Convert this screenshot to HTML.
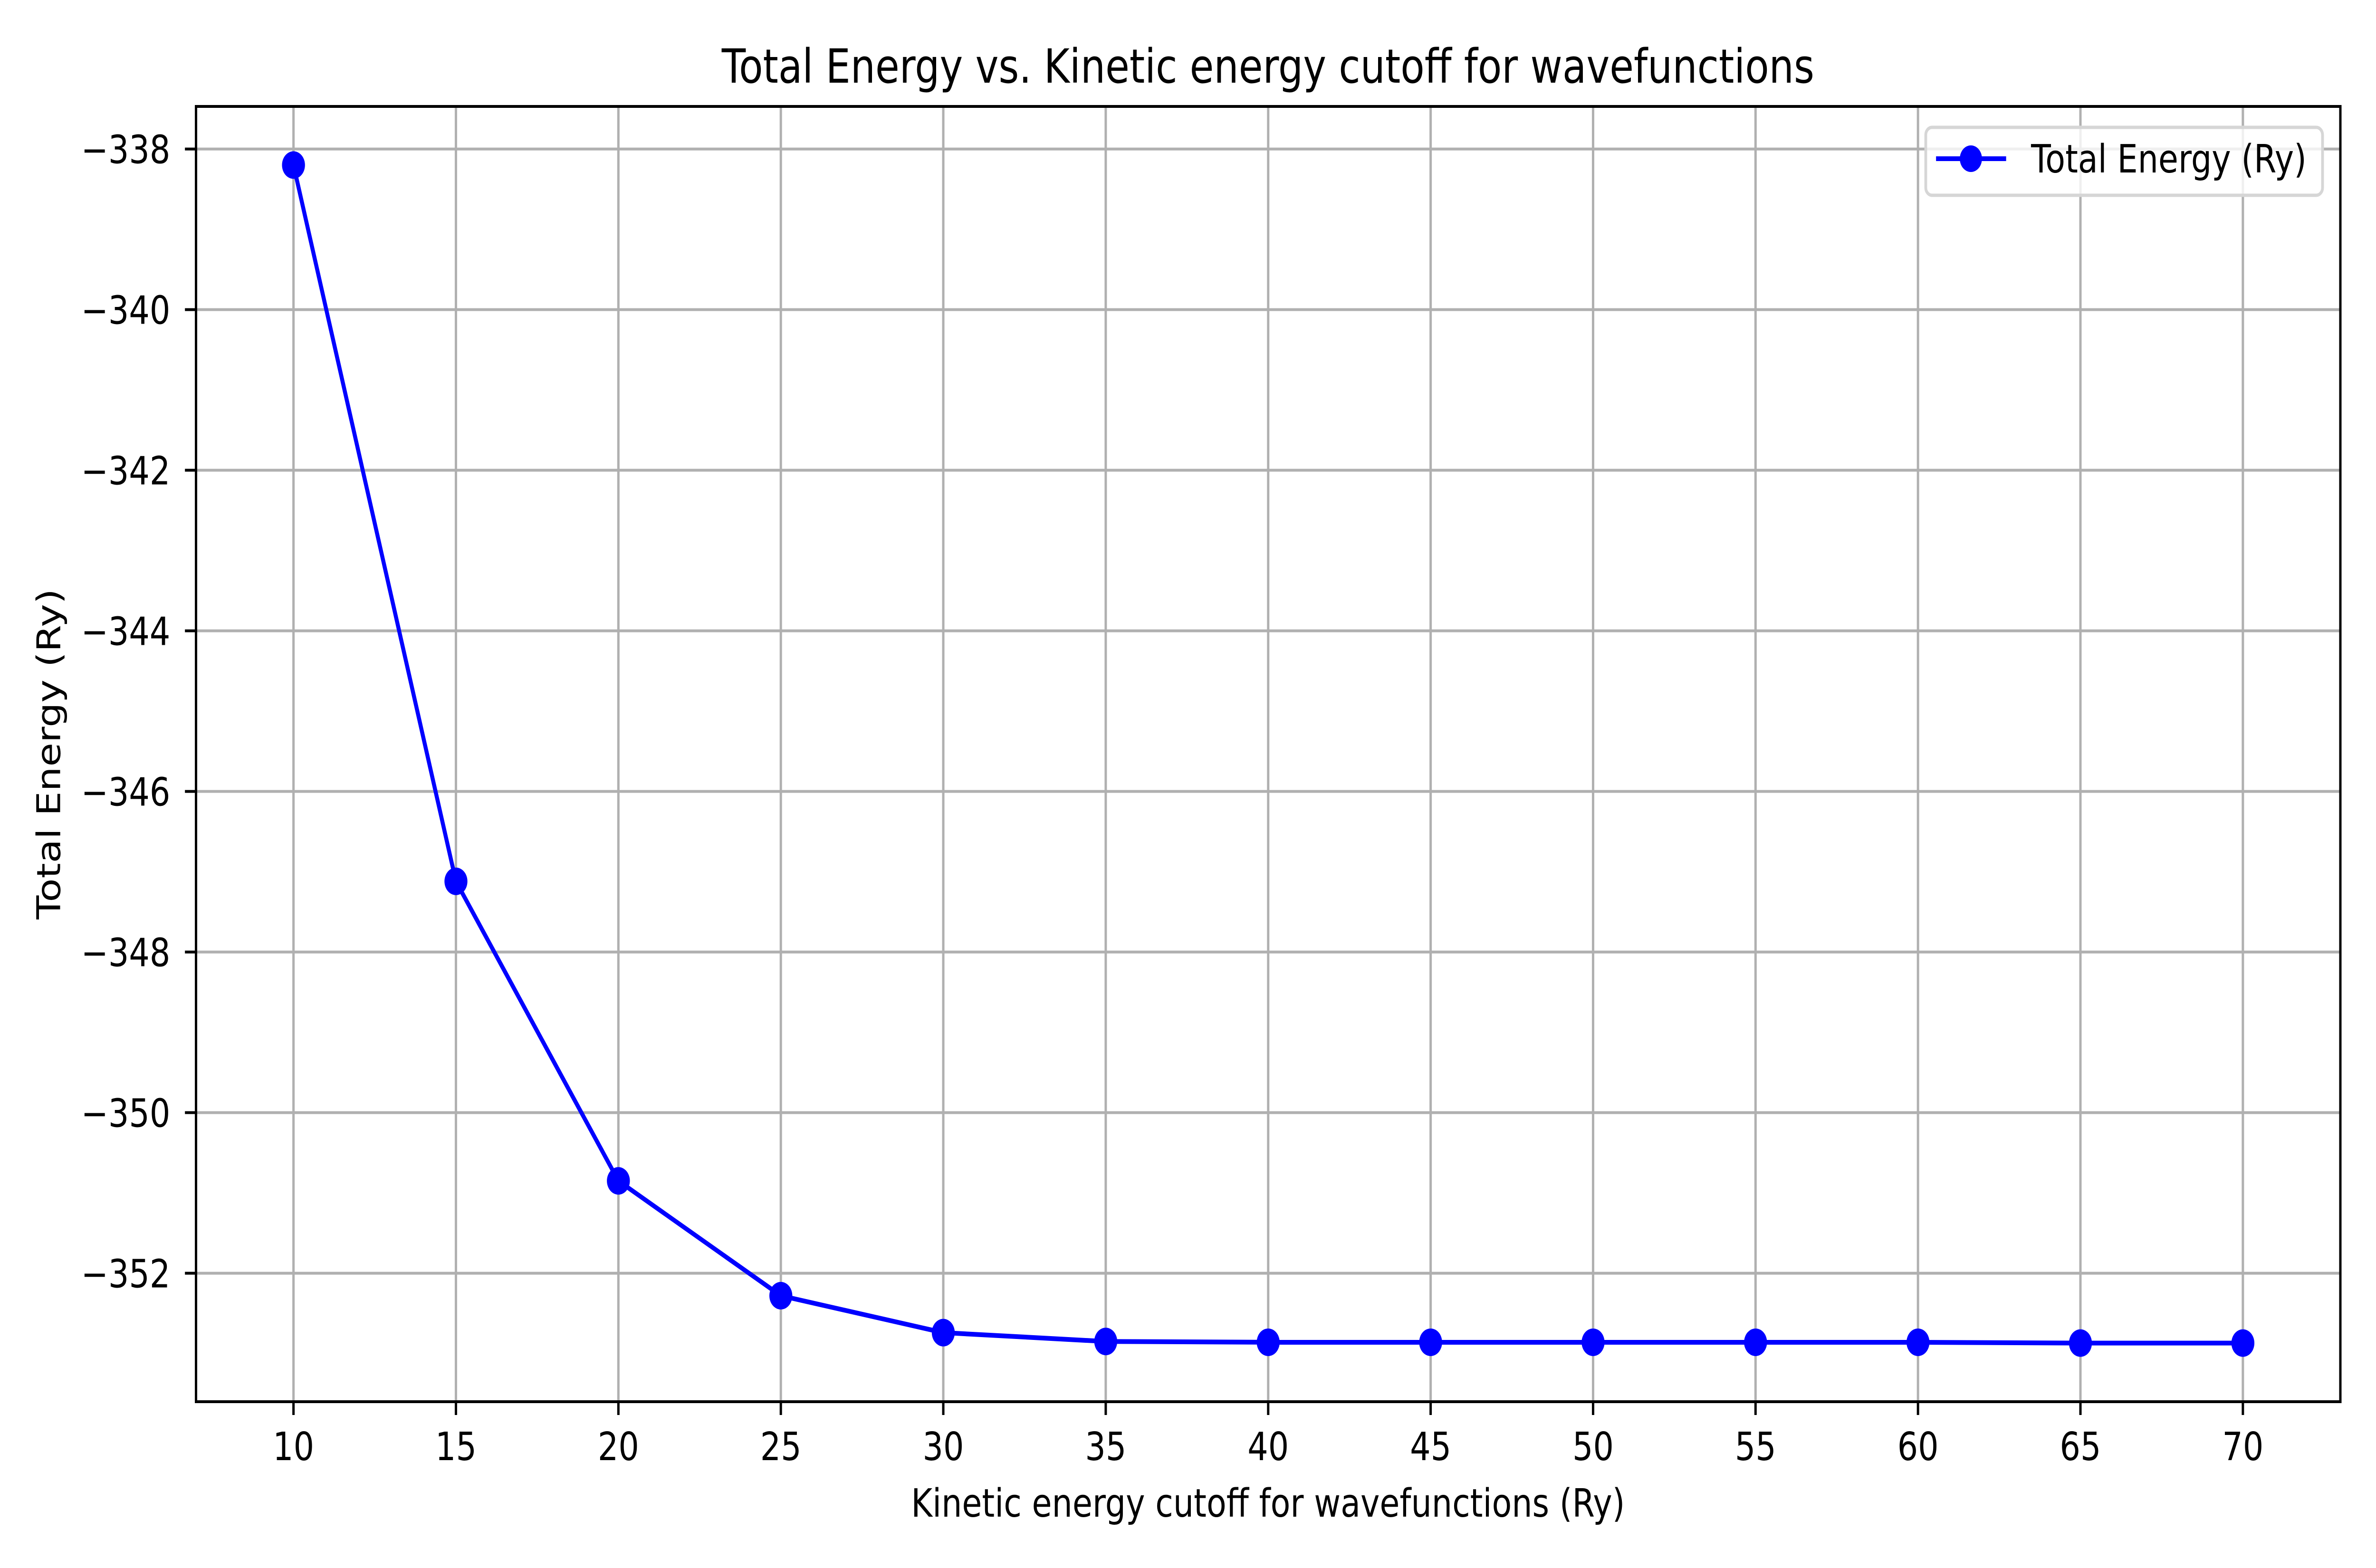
<!DOCTYPE html>
<html><head><meta charset="utf-8"><style>
html,body{margin:0;padding:0;background:#fff;overflow:hidden;width:100vw;height:100vh;}
svg{display:block;width:100vw;height:100vh;font-family:"DejaVu Sans","Liberation Sans",sans-serif;}
</style></head><body>
<svg id="chart" viewBox="0 0 6000 3300" preserveAspectRatio="none" xmlns="http://www.w3.org/2000/svg">
<rect width="6000" height="3300" fill="#fff"/>
<g id="grid"></g>
<g id="series"></g>
<g id="axes"></g>
<text x="3202" y="174" font-size="99" text-anchor="middle">Total Energy vs. Kinetic energy cutoff for wavefunctions</text>
<text x="3202" y="3192" font-size="82" text-anchor="middle">Kinetic energy cutoff for wavefunctions (Ry)</text>
<text x="0" y="0" font-size="82" text-anchor="middle" transform="translate(152,1587) rotate(-90)">Total Energy (Ry)</text>
<g>
<rect x="4863" y="268" width="1002" height="143" rx="16" fill="rgba(255,255,255,0.8)" stroke="#d6d6d6" stroke-width="7"/>
<line x1="4889" y1="334" x2="5066" y2="334" stroke="#0000ff" stroke-width="10"/>
<circle cx="4977" cy="334" r="28" fill="#0000ff"/>
<text x="5129" y="363" font-size="82">Total Energy (Ry)</text>
</g>
</svg>
<script>
const cutoffs = [10,15,20,25,30,35,40,45,50,55,60,65,70];
const energies = [-338.20,-347.12,-350.85,-352.28,-352.74,-352.85,-352.86,-352.86,-352.86,-352.86,-352.86,-352.87,-352.87];
const xTicks = [10,15,20,25,30,35,40,45,50,55,60,65,70];
const yTicks = [-338,-340,-342,-344,-346,-348,-350,-352];

const L=495,R=5910,T=224,B=2950;
const xMin=7,xMax=73,yMin=-353.60,yMax=-337.47;
const sx=v=>L+(v-xMin)/(xMax-xMin)*(R-L);
const sy=v=>B-(v-yMin)/(yMax-yMin)*(B-T);
const NS="http://www.w3.org/2000/svg";
function mk(tag,attrs,parent){const e=document.createElementNS(NS,tag);for(const k in attrs)e.setAttribute(k,attrs[k]);parent.appendChild(e);return e;}
const grid=document.getElementById('grid'),axes=document.getElementById('axes'),series=document.getElementById('series');
xTicks.forEach(t=>{
  const x=sx(t);
  const g=mk('line',{x1:x,y1:T,x2:x,y2:B,stroke:'#b0b0b0','stroke-width':6},grid);
  
  
  const tk=mk('line',{x1:x,y1:B,x2:x,y2:B+28,stroke:'#000','stroke-width':6},axes);
  
  
  const lb=mk('text',{x:x,y:3073,'font-size':82,'text-anchor':'middle'},axes);
  lb.textContent=String(t);
  
  
});
yTicks.forEach(t=>{
  const y=sy(t);
  const g=mk('line',{x1:L,y1:y,x2:R,y2:y,stroke:'#b0b0b0','stroke-width':6},grid);
  
  
  const tk=mk('line',{x1:L-28,y1:y,x2:L,y2:y,stroke:'#000','stroke-width':6},axes);
  
  
  const lb=mk('text',{x:430,y:y+30,'font-size':82,'text-anchor':'end'},axes);
  lb.textContent='\u2212'+String(Math.abs(t));
  
  
});
const frame=mk('rect',{x:L,y:T,width:R-L,height:B-T,fill:'none',stroke:'#000','stroke-width':6},axes);


const pts=cutoffs.map((c,i)=>sx(c)+','+sy(energies[i])).join(' ');
const line=mk('polyline',{points:pts,fill:'none',stroke:'#0000ff','stroke-width':10,'stroke-linejoin':'round'},series);


cutoffs.forEach((c,i)=>{
  const p=mk('circle',{cx:sx(c),cy:sy(energies[i]),r:29,fill:'#0000ff'},series);
  
  
});
</script>
</body></html>
